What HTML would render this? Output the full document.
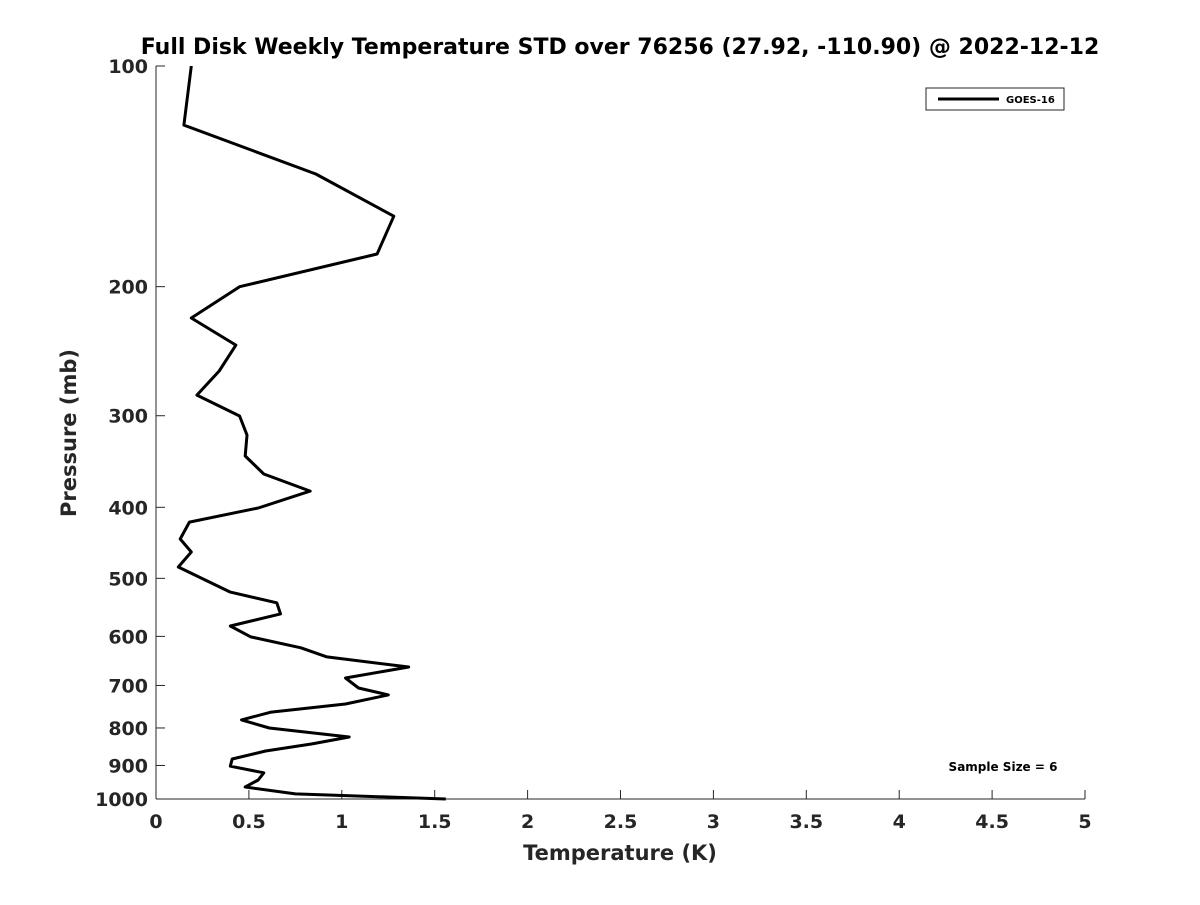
<!DOCTYPE html>
<html><head><meta charset="utf-8"><style>
html,body{margin:0;padding:0;background:#fff}
text{font-family:"DejaVu Sans","Liberation Sans",sans-serif;font-weight:bold;fill:#262626}
</style></head><body>
<svg id="chart" width="1200" height="900" xmlns="http://www.w3.org/2000/svg">
<text x="620" y="54" text-anchor="middle" font-size="22" style="fill:#000">Full Disk Weekly Temperature STD over 76256 (27.92, -110.90) @ 2022-12-12</text>
<g id="axes"></g>
<path id="series" fill="none" stroke="#000" stroke-width="3" stroke-linejoin="round"/>
<g>
<rect x="926" y="88" width="138" height="22" fill="#fff" stroke="#262626" stroke-width="1"/>
<line x1="938" y1="99" x2="999" y2="99" stroke="#000" stroke-width="3"/>
<text x="1006" y="103" font-size="10" style="fill:#000">GOES-16</text>
</g>
<text x="1003" y="771" text-anchor="middle" font-size="12" style="fill:#000">Sample Size = 6</text>
<text x="620" y="860" text-anchor="middle" font-size="21">Temperature (K)</text>
<text transform="translate(76,433) rotate(-90)" text-anchor="middle" font-size="21">Pressure (mb)</text>
</svg>
<script>
const temps=[0.19,0.15,0.86,1.28,1.19,0.45,0.19,0.43,0.34,0.22,0.45,0.49,0.48,0.58,0.83,0.55,0.18,0.13,0.19,0.12,0.40,0.65,0.67,0.40,0.51,0.78,0.92,1.36,1.02,1.09,1.25,1.02,0.62,0.46,0.61,1.04,0.84,0.59,0.41,0.40,0.58,0.55,0.48,0.75,1.56];
const pressures=[100,120.4,140.4,160.3,180.5,200,220.7,240.3,260.7,281.2,300.3,318.8,340.5,360.3,380.1,400.9,419,441.9,460.3,482.5,522,540,559,580.7,601,622,640,660.6,683.9,705.7,721,742,761,780,800,823,841,860,882,902,921,942,963,984,1000];
const xTicks=[0,0.5,1,1.5,2,2.5,3,3.5,4,4.5,5];
const xTickLabels=["0","0.5","1","1.5","2","2.5","3","3.5","4","4.5","5"];
const yTicks=[100,200,300,400,500,600,700,800,900,1000];
const yTickLabels=["100","200","300","400","500","600","700","800","900","1000"];
const X0=156,X1=1085,Y0=66,Y1=799;
function xs(v){return X0+(v-0)/(5-0)*(X1-X0);}
function ys(p){return Y0+(Math.log10(p)-2)/(1)*(Y1-Y0);}
const NS="http://www.w3.org/2000/svg";
const ax=document.getElementById('axes');
function mk(t,a){const e=document.createElementNS(NS,t);for(const k in a)e.setAttribute(k,a[k]);ax.appendChild(e);return e;}
let l=mk('line',{x1:X0,y1:Y1,x2:X1,y2:Y1,stroke:'#262626','stroke-width':1});


l=mk('line',{x1:X0,y1:Y0,x2:X0,y2:Y1,stroke:'#262626','stroke-width':1});


xTicks.forEach((v,i)=>{
 const x=xs(v);
 mk('line',{x1:x,y1:Y1,x2:x,y2:Y1-9,stroke:'#262626','stroke-width':1});
 const t=mk('text',{x:x,y:Y1+29,'text-anchor':'middle','font-size':19});
 t.textContent=xTickLabels[i];
 
 
});
yTicks.forEach((v,i)=>{
 const y=ys(v);
 mk('line',{x1:X0,y1:y,x2:X0+9,y2:y,stroke:'#262626','stroke-width':1});
 const t=mk('text',{x:X0-8,y:y+7,'text-anchor':'end','font-size':19});
 t.textContent=yTickLabels[i];
 
 
});
document.getElementById('series').setAttribute('d',temps.map((t,i)=>(i?'L':'M')+xs(t).toFixed(1)+','+ys(pressures[i]).toFixed(1)).join(''));
</script>
</body></html>
